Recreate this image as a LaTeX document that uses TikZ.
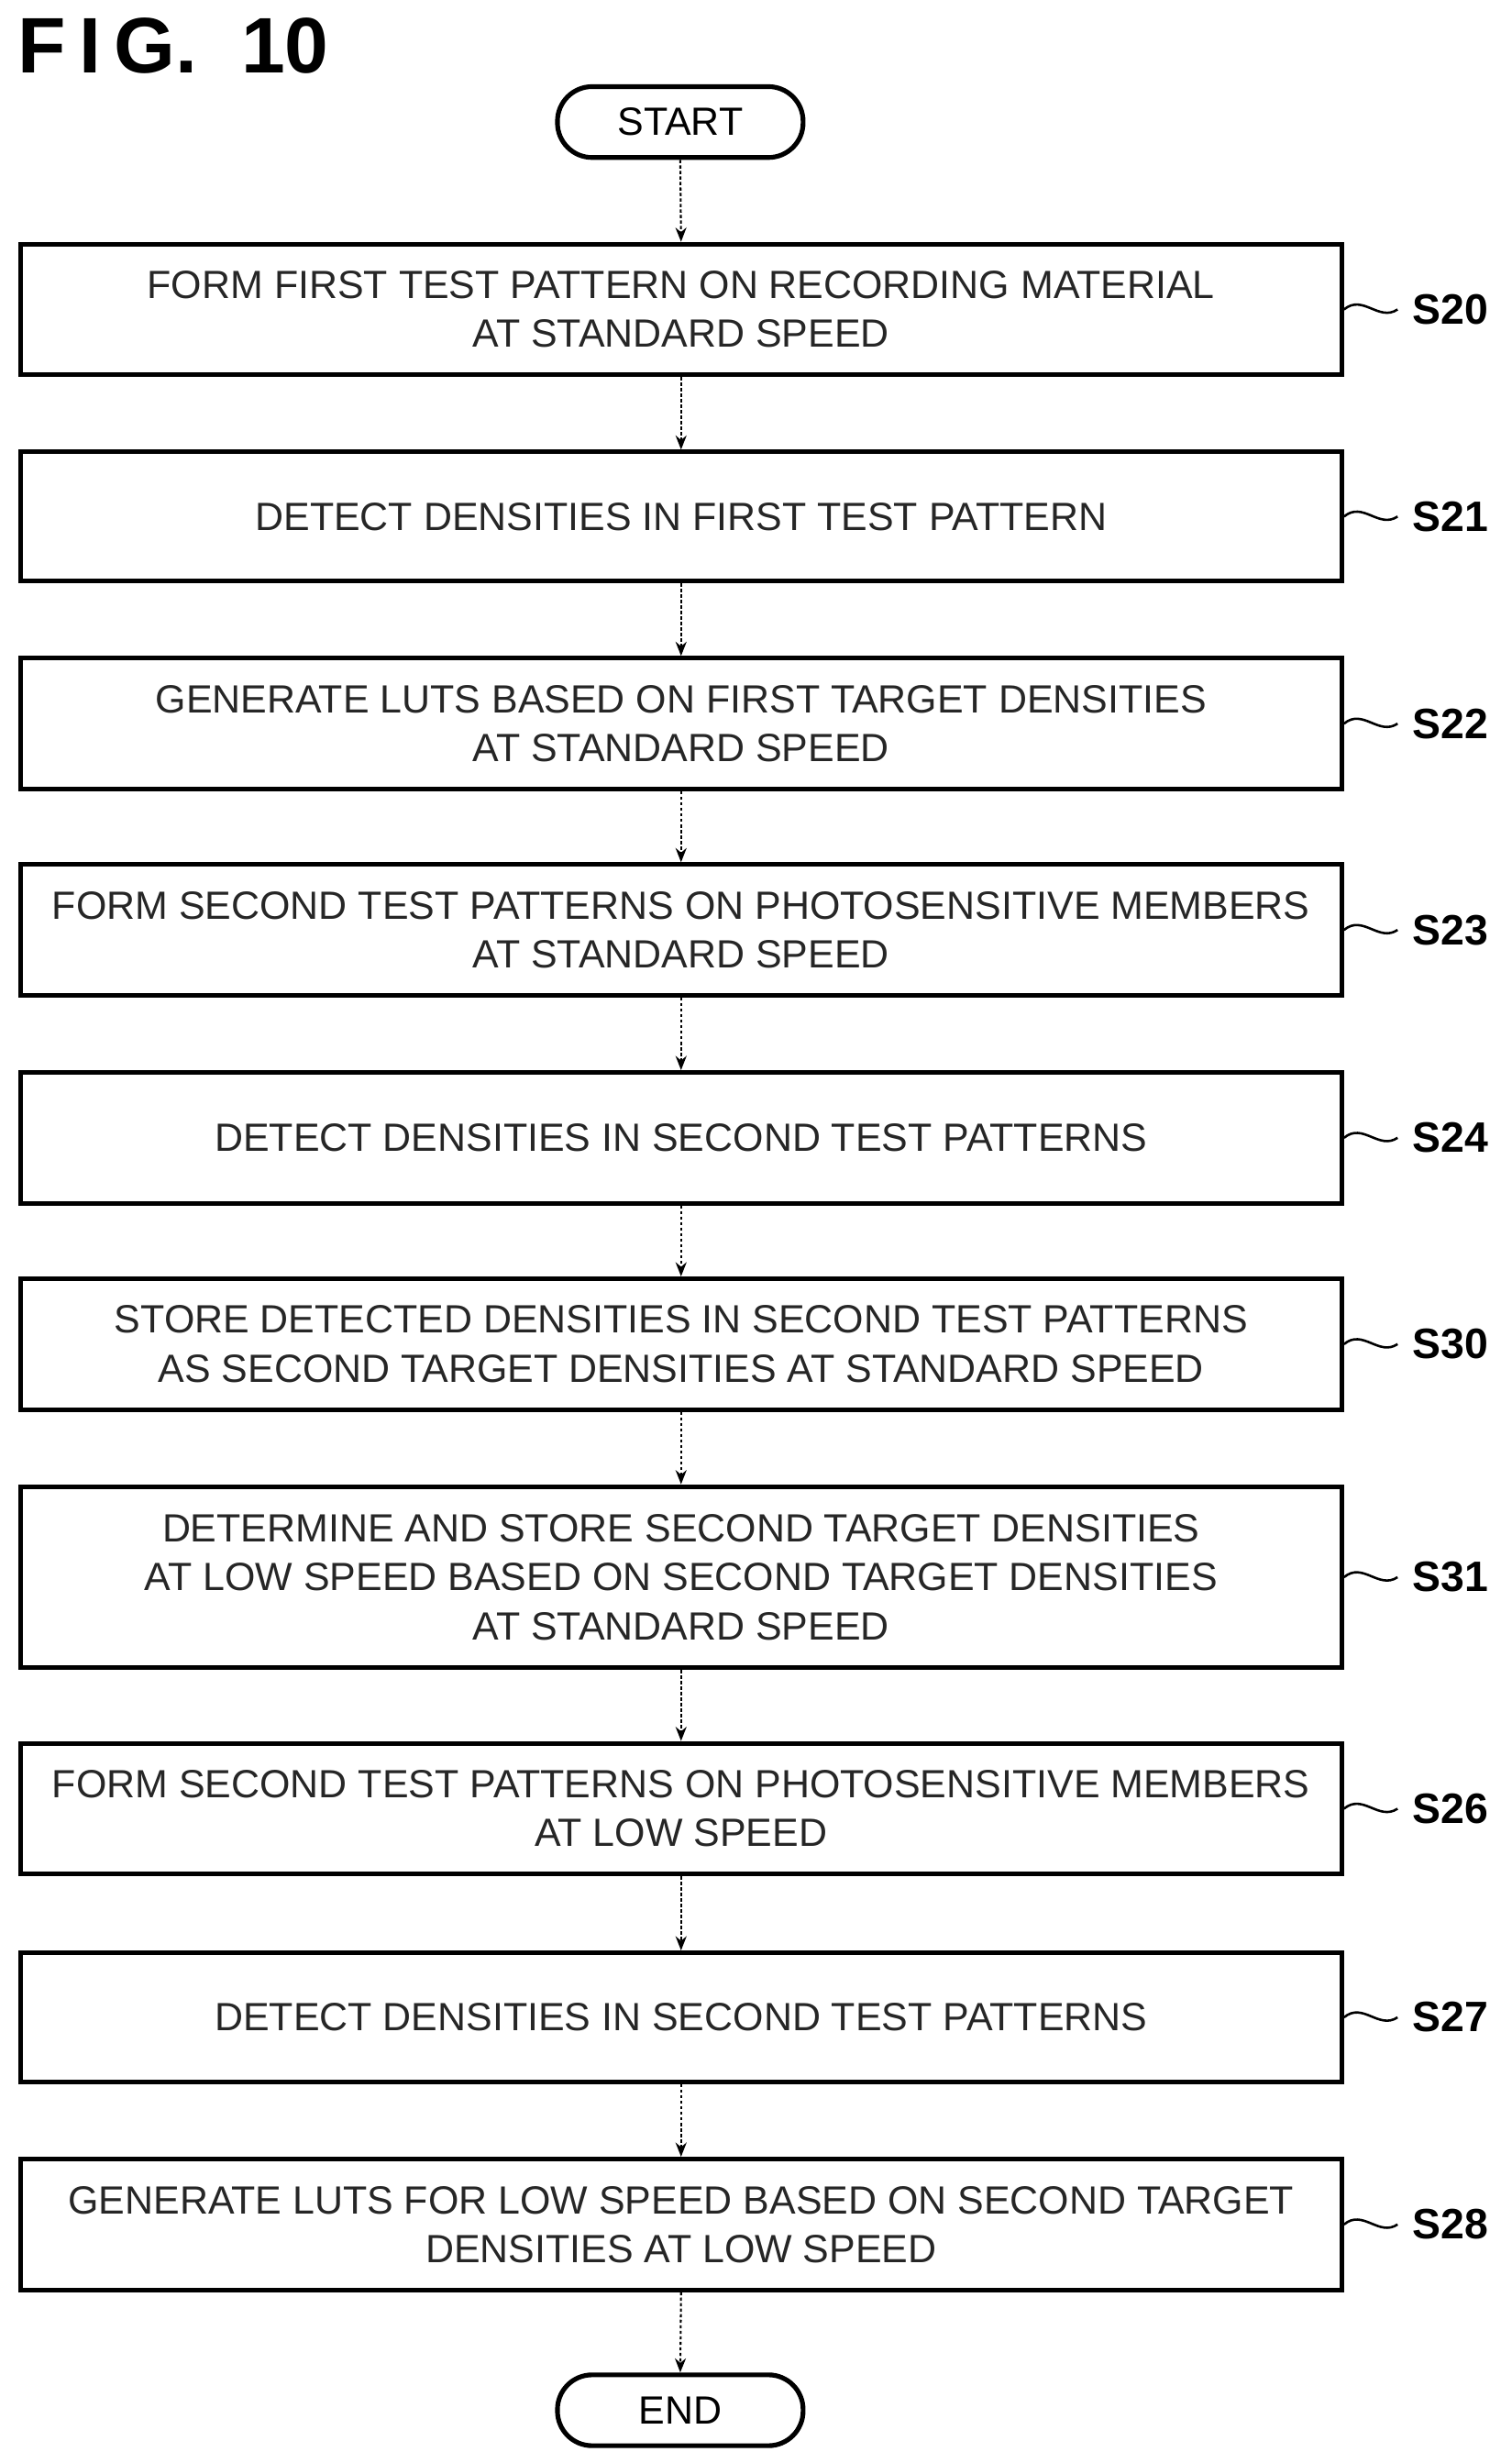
\documentclass[tikz,border=0pt]{standalone}
\usepackage{fontspec}
\setmainfont{Liberation Sans}
\usetikzlibrary{arrows.meta}
\begin{document}
\begin{tikzpicture}[x=1pt,y=-1pt,
  stepbox/.style={draw=black,line width=3pt,minimum width=839pt,align=center,font=\fontsize{25}{31}\selectfont,inner sep=0pt,text=black!85},
  term/.style={draw=black,line width=3pt,rounded corners=22pt,minimum width=156pt,minimum height=45pt,font=\fontsize{25}{30}\selectfont,inner sep=0pt},
  conn/.style={line width=1.2pt,dash pattern=on 2pt off 1.5pt,-{Stealth[length=9pt,width=7pt]}},
  lbl/.style={font=\bfseries\fontsize{27}{30}\selectfont,anchor=west},
  wave/.style={line width=1.5pt}]
\useasboundingbox (0,0) rectangle (960,1564);
\node[anchor=north west,font=\bfseries\fontsize{50}{50}\selectfont] (fig) at (8,8) {F\,I\,G.\ \ 10};
\node[term] (start) at (432,77.5) {START};
\def\mk#1#2#3#4#5{\node[stepbox,minimum height=#3pt] (#1) at (432.5,#2) {#4};
  \draw[wave] (#1.east) .. controls +(12,-10) and +(-12,8) .. +(34,0) coordinate (w#1);
  \node[lbl] (l#1) at ([xshift=6pt]w#1) {#5};}
\mk{s20}{196.5}{83}{FORM FIRST TEST PATTERN ON RECORDING MATERIAL\\AT STANDARD SPEED}{S20}
\mk{s21}{328}{82}{DETECT DENSITIES IN FIRST TEST PATTERN}{S21}
\mk{s22}{459.5}{83}{GENERATE LUTS BASED ON FIRST TARGET DENSITIES\\AT STANDARD SPEED}{S22}
\mk{s23}{590.5}{83}{FORM SECOND TEST PATTERNS ON PHOTOSENSITIVE MEMBERS\\AT STANDARD SPEED}{S23}
\mk{s24}{722.5}{83}{DETECT DENSITIES IN SECOND TEST PATTERNS}{S24}
\mk{s30}{853.5}{83}{STORE DETECTED DENSITIES IN SECOND TEST PATTERNS\\AS SECOND TARGET DENSITIES AT STANDARD SPEED}{S30}
\mk{s31}{1001.5}{115}{DETERMINE AND STORE SECOND TARGET DENSITIES\\AT LOW SPEED BASED ON SECOND TARGET DENSITIES\\AT STANDARD SPEED}{S31}
\mk{s26}{1148.5}{83}{FORM SECOND TEST PATTERNS ON PHOTOSENSITIVE MEMBERS\\AT LOW SPEED}{S26}
\mk{s27}{1281}{82}{DETECT DENSITIES IN SECOND TEST PATTERNS}{S27}
\mk{s28}{1412.5}{83}{GENERATE LUTS FOR LOW SPEED BASED ON SECOND TARGET\\DENSITIES AT LOW SPEED}{S28}
\node[term] (end) at (432,1530.5) {END};
\foreach \a/\b in {start/s20,s20/s21,s21/s22,s22/s23,s23/s24,s24/s30,s30/s31,s31/s26,s26/s27,s27/s28,s28/end}
  \draw[conn] (\a.south) -- (\b.north);
\end{tikzpicture}
\end{document}
